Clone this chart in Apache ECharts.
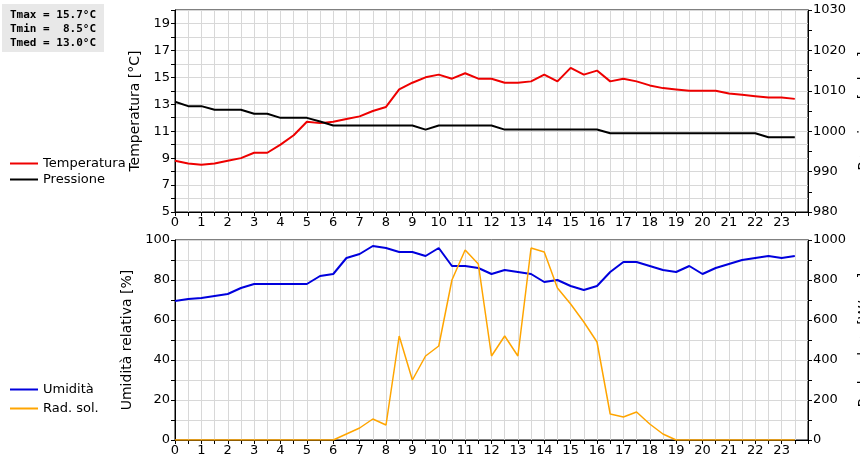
<!DOCTYPE html><html><head><meta charset="utf-8"><script src="https://cdn.jsdelivr.net/npm/echarts@6/dist/echarts.min.js"></script></head><body style="margin:0"><div id="c" style="width:860px;height:460px"></div><script>
const hours=[];for(let i=0;i<48;i++)hours.push(i/2);
const temp=[8.8,8.6,8.5,8.6,8.8,9.0,9.4,9.4,10.0,10.7,11.7,11.6,11.7,11.9,12.1,12.5,12.8,14.1,14.6,15.0,15.2,14.9,15.3,14.9,14.9,14.6,14.6,14.7,15.2,14.7,15.7,15.2,15.5,14.7,14.9,14.7,14.4,14.2,14.1,14.0,14.0,14.0,13.8,13.7,13.6,13.5,13.5,13.4];
const press=[1007.3,1006.2,1006.2,1005.3,1005.3,1005.3,1004.3,1004.3,1003.3,1003.3,1003.3,1002.4,1001.4,1001.4,1001.4,1001.4,1001.4,1001.4,1001.4,1000.4,1001.4,1001.4,1001.4,1001.4,1001.4,1000.4,1000.4,1000.4,1000.4,1000.4,1000.4,1000.4,1000.4,999.5,999.5,999.5,999.5,999.5,999.5,999.5,999.5,999.5,999.5,999.5,999.5,998.5,998.5,998.5];
const hum=[69.5,70.5,71,72,73,76,78,78,78,78,78,82,83,91,93,97,96,94,94,92,96,87,87,86,83,85,84,83,79,80,77,75,77,84,89,89,87,85,84,87,83,86,88,90,91,92,91,92];
const rad=[0,0,0,0,0,0,0,0,0,0,0,0,0,30,60,105,75,520,300,420,470,800,950,880,420,520,420,960,940,760,680,590,490,130,115,140,80,30,0,0,0,0,0,0,0,0,0,0];
const stats=['Tmax = 15.7°C','Tmin =  8.5°C','Tmed = 13.0°C'];
const z=(a)=>hours.map((h,i)=>[h,a[i]]);
const lbl={color:'#000',fontSize:13,fontFamily:'DejaVu Sans'};
const nm={color:'#000',fontSize:14,fontFamily:'DejaVu Sans'};
const gl={show:true,lineStyle:{color:'#d8d8d8'}};
function xa(g){return {type:'value',gridIndex:g,min:0,max:24,interval:0.5,axisLine:{lineStyle:{color:'#000'}},axisTick:{show:true,length:4,lineStyle:{color:'#000'}},axisLabel:Object.assign({},lbl,{margin:4,formatter:v=>(v%1===0&&v<24)?String(v):''}),splitLine:gl};}
function ya(g,min,max,iv,name,pos,show){return {type:'value',gridIndex:g,min:min,max:max,interval:iv,position:pos,name:name,nameLocation:'middle',nameGap:pos==='left'?30:40,nameTextStyle:nm,axisLine:{show:true,lineStyle:{color:'#000'}},axisTick:{show:true,length:4,inside:false,lineStyle:{color:'#000'}},axisLabel:Object.assign({},lbl,{margin:5,formatter:v=>show(v)?String(v):''}),splitLine:pos==='left'?gl:{show:false}};}
const ch=echarts.init(document.getElementById('c'));
ch.setOption({animation:false,
grid:[{left:175,right:52,top:10,height:202,show:true,borderColor:'#000',outerBoundsMode:'none',containLabel:false},{left:175,right:52,top:240,height:200,show:true,borderColor:'#000',outerBoundsMode:'none',containLabel:false}],
xAxis:[xa(0),xa(1)],
yAxis:[ya(0,5,20,1,'Temperatura [°C]','left',v=>v%2===1&&v<20),ya(0,980,1030,5,'Pressione [mbar]','right',v=>v%10===0),ya(1,0,100,10,'Umidità relativa [%]','left',v=>v%20===0),ya(1,0,1000,100,'Rad. solare [W/mq]','right',v=>v%200===0)],
legend:[{data:['Temperatura','Pressione'],left:5,top:152,orient:'vertical',itemWidth:28,itemHeight:2,icon:'rect',itemGap:3,textStyle:{fontSize:13,fontFamily:'DejaVu Sans',color:'#000'}},{data:['Umidità','Rad. sol.'],left:5,top:378,orient:'vertical',itemWidth:28,itemHeight:2,icon:'rect',itemGap:6,textStyle:{fontSize:13,fontFamily:'DejaVu Sans',color:'#000'}}],
graphic:[{type:'rect',left:2,top:4,shape:{width:102,height:48},style:{fill:'#e8e8e8'}},{type:'text',left:10,top:8,style:{text:stats.join('\n'),font:'bold 11px "DejaVu Sans Mono"',lineHeight:14,fill:'#000'}}],
series:[
{name:'Temperatura',type:'line',xAxisIndex:0,yAxisIndex:0,data:z(temp),showSymbol:false,color:'#ee0000',lineStyle:{width:2}},
{name:'Pressione',type:'line',xAxisIndex:0,yAxisIndex:1,data:z(press),showSymbol:false,color:'#000',lineStyle:{width:2}},
{name:'Umidità',type:'line',xAxisIndex:1,yAxisIndex:2,data:z(hum),showSymbol:false,color:'#0000dd',lineStyle:{width:2}},
{name:'Rad. sol.',type:'line',xAxisIndex:1,yAxisIndex:3,data:z(rad),showSymbol:false,color:'#ffa500',lineStyle:{width:1.5}}]});
</script></body></html>
